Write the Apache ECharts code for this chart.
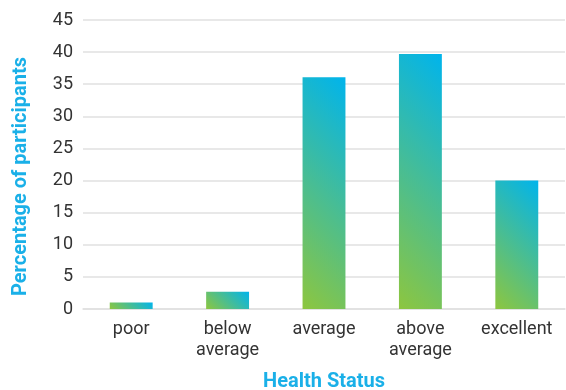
<!DOCTYPE html>
<html>
<head>
<meta charset="utf-8">
<script src="https://cdn.jsdelivr.net/npm/echarts@6/dist/echarts.min.js"></script>
<style>
html, body { margin: 0; padding: 0; background: #fff; }
#chart { width: 566px; height: 390px; }
</style>
</head>
<body>
<div id="chart"></div>
<script>
const categories = ['poor', 'below\naverage', 'average', 'above\naverage', 'excellent']
const percentages = [1, 2.7, 36.1, 39.7, 20]
const yTicks = { min: 0, max: 45, interval: 5 }

const font = 'Roboto, "Liberation Sans", sans-serif'
const green = '#8dc63f'
const blue = '#00b4ec'
const barRatio = 0.445

const chart = echarts.init(document.getElementById('chart'))
chart.setOption({
  animation: false,
  grid: { left: 83, right: 1, top: 20, bottom: 81, outerBoundsMode: 'none', containLabel: false },
  xAxis: {
    type: 'category',
    data: categories,
    name: 'Health Status',
    nameLocation: 'middle',
    nameGap: 63,
    nameTextStyle: { color: '#1ab0e8', fontSize: 20, fontWeight: 'bold', fontFamily: font },
    axisLine: { lineStyle: { color: '#e0e0e0', width: 1.5 } },
    axisTick: { show: false },
    axisLabel: { color: '#333', fontSize: 18, fontFamily: font, margin: 10, lineHeight: 21 }
  },
  yAxis: {
    type: 'value',
    min: yTicks.min,
    max: yTicks.max,
    interval: yTicks.interval,
    name: 'Percentage of participants',
    nameLocation: 'middle',
    nameGap: 52,
    nameTextStyle: { color: '#1ab0e8', fontSize: 20, fontWeight: 'bold', fontFamily: font, padding: [0, 24, 0, 0] },
    axisLabel: { color: '#333', fontSize: 18, fontFamily: font, margin: 10 },
    splitLine: { lineStyle: { color: '#e0e0e0', width: 1.5 } }
  },
  series: [{
    type: 'bar',
    data: percentages,
    barWidth: (barRatio * 100) + '%'
  }]
})

// 45 degree gradient spanning each bar's box, bottom-left green -> top-right blue
function gradientFor (w, h) {
  return new echarts.graphic.LinearGradient(
    (w - h) / (4 * w), (3 * h + w) / (4 * h),
    (3 * w + h) / (4 * w), (h - w) / (4 * h),
    [{ offset: 0, color: green }, { offset: 1, color: blue }]
  )
}

const band = chart.convertToPixel({ xAxisIndex: 0 }, 1) - chart.convertToPixel({ xAxisIndex: 0 }, 0)
const barW = band * barRatio
const y0 = chart.convertToPixel({ yAxisIndex: 0 }, 0)
chart.setOption({
  series: [{
    data: percentages.map((v) => {
      const h = Math.max(1, y0 - chart.convertToPixel({ yAxisIndex: 0 }, v))
      return { value: v, itemStyle: { color: gradientFor(barW, h) } }
    })
  }]
})
</script>
</body>
</html>
